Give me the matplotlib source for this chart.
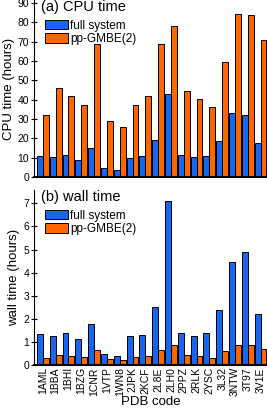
import matplotlib
matplotlib.use("Agg")
import matplotlib.pyplot as plt
import numpy as np

plt.rcParams['font.family'] = ['Liberation Sans', 'DejaVu Sans']

codes = ["1AML", "1BBA", "1BHI", "1BZG", "1CNR", "1VTP", "1WN8", "2JPK", "2KCF",
         "2L8E", "2LH0", "2PPZ", "2RLK", "2YSC", "3L32", "3NTW", "3T97", "3V1E"]
cpu_full = [11, 10.5, 11.5, 9, 15, 4.5, 3.5, 10, 11, 19, 43, 11.5, 10.5, 11, 18.5, 33, 32, 17.5]
cpu_pp = [32, 46, 42, 37, 69, 29, 26, 37.5, 42, 69, 78, 44.5, 40.5, 36, 59.5, 84.5, 83.5, 71]
wall_full = [1.35, 1.28, 1.38, 1.13, 1.8, 0.5, 0.4, 1.25, 1.32, 2.5, 7.1, 1.4, 1.28, 1.38, 2.38, 4.45, 4.9, 2.2]
wall_pp = [0.32, 0.43, 0.4, 0.35, 0.65, 0.25, 0.22, 0.35, 0.38, 0.67, 0.88, 0.42, 0.4, 0.33, 0.6, 0.87, 0.87, 0.68]

blue = "#1666f2"
orange = "#ff6600"

fig = plt.figure(figsize=(2.67, 4.08), dpi=100)
ax1 = fig.add_axes([0.127, 0.566, 0.873, 0.434])
ax2 = fig.add_axes([0.127, 0.105, 0.873, 0.429])

x = np.arange(len(codes))
w = 0.46

for ax, full, pp, ylim, yt, title, ylabel in [
    (ax1, cpu_full, cpu_pp, 91.5, np.arange(0, 91, 10), "(a) CPU time", "CPU time (hours)"),
    (ax2, wall_full, wall_pp, 7.57, np.arange(0, 8, 1), "(b) wall time", "wall time (hours)"),
]:
    ax.bar(x - w / 2, full, w, color=blue, edgecolor="black", linewidth=0.7, label="full system")
    ax.bar(x + w / 2, pp, w, color=orange, edgecolor="black", linewidth=0.7, label="pp-GMBE(2)")
    ax.set_xlim(-0.7, 17.5)
    ax.set_ylim(0, ylim)
    ax.set_yticks(yt)
    ax.tick_params(axis='y', direction='inout', length=5, width=0.8, labelsize=7.5, pad=1)
    ax.spines['top'].set_visible(False)
    ax.spines['right'].set_visible(False)
    ax.spines['bottom'].set_linewidth(1.5)
    ax.spines['left'].set_linewidth(0.8)
    ax.set_ylabel(ylabel, fontsize=9.5, labelpad=2)
    ax.text(0.03, 1.0, title, transform=ax.transAxes, fontsize=10.5, va='top', ha='left')
    ax.legend(loc='upper left', bbox_to_anchor=(0.01, 0.935), frameon=False, fontsize=8.5,
              handlelength=2.0, handleheight=0.85, handletextpad=0.15, labelspacing=0.1,
              borderpad=0.2)

ax1.set_xticks(x)
ax1.set_xticklabels([])
ax1.tick_params(axis='x', length=0)
ax2.set_xticks(x)
ax2.set_xticklabels(codes, rotation=90, fontsize=7.5)
ax2.tick_params(axis='x', length=0, pad=1.5)
ax2.set_xlabel("PDB code", fontsize=9.5, labelpad=0)

fig.savefig("out.png", dpi=100)
